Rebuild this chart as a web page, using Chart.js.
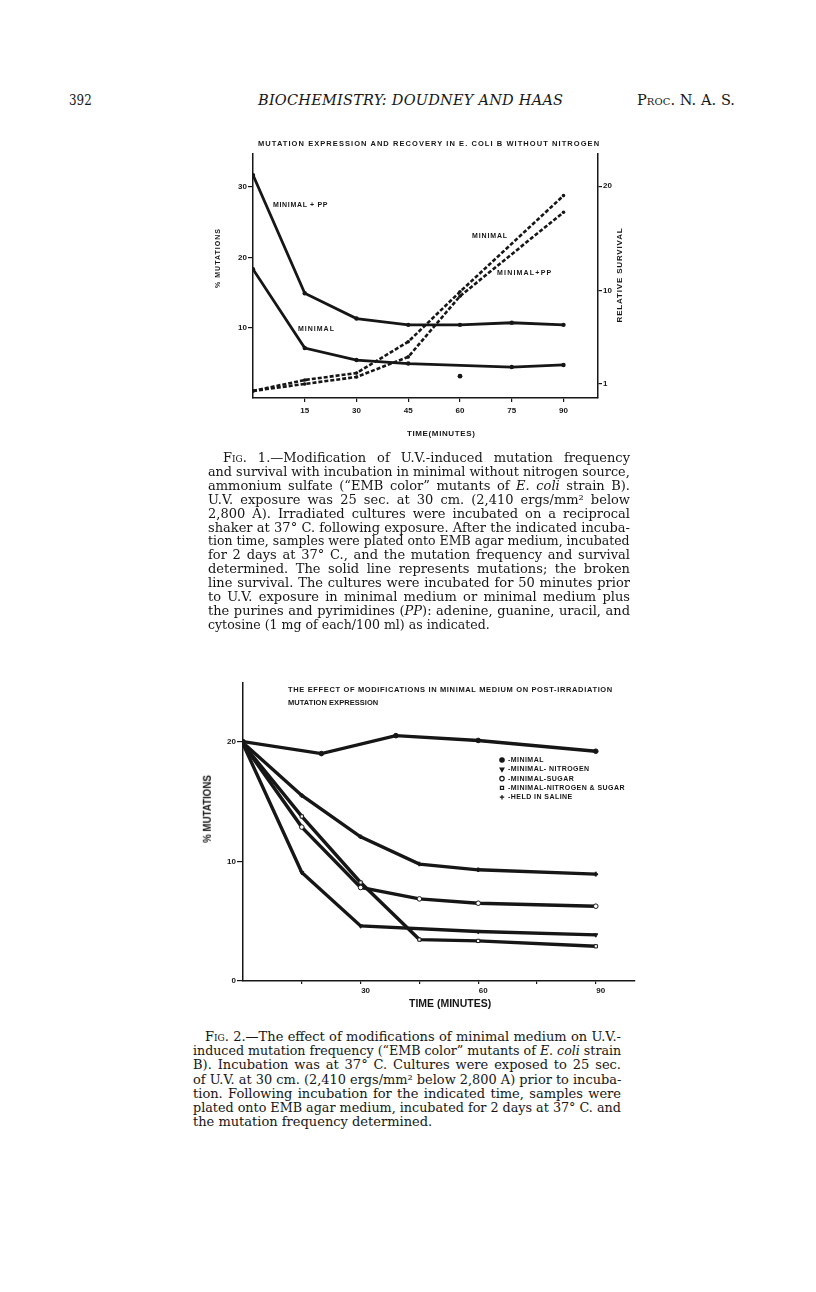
<!DOCTYPE html>
<html>
<head>
<meta charset="utf-8">
<title>Doudney and Haas, p. 392</title>
<script src="https://cdn.jsdelivr.net/npm/chart.js@4.4.1/dist/chart.umd.min.js"></script>
<style>
  body { margin: 0; background: #fff; }
  #page { position: relative; width: 816px; height: 1292px; overflow: hidden; background: #fff; color: #161616;
          font-family: "DejaVu Serif", "Liberation Serif", serif; }
  #page canvas { position: absolute; }
  .t { position: absolute; white-space: nowrap; }
  .hd { font-size: 14.5px; line-height: 15px; }
  .cap { font-size: 13px; line-height: 14px; }
  .lbl { font-family: "Liberation Sans", "DejaVu Sans", sans-serif; font-weight: bold; font-size: 8px; line-height: 8px; }
  .sc { font-variant: small-caps; }
</style>
</head>
<body>
<div id="page">
  <canvas id="fig1" width="500" height="330" style="left:180px;top:120px"></canvas>
  <canvas id="fig2" width="500" height="345" style="left:180px;top:670px"></canvas>

  <!-- running head -->
  <div class="t hd" data-x="69" data-cy="100" data-w="23">392</div>
  <div class="t hd" data-x="258" data-cy="100" data-w="305" data-ls="1" style="font-style:italic">BIOCHEMISTRY: DOUDNEY AND HAAS</div>
  <div class="t hd" data-x="637" data-cy="100" data-w="98" data-ls="1">P<span class="sc">roc</span>. N. A. S.</div>

  <!-- fig 1 lettering -->
  <div class="t lbl" data-x="258" data-cy="144" data-w="342" data-ls="1" style="font-size:7.5px">MUTATION EXPRESSION AND RECOVERY IN E. COLI B WITHOUT NITROGEN</div>
  <div class="t lbl" data-x="273" data-cy="205" data-w="55" data-ls="1" style="font-size:7px">MINIMAL + PP</div>
  <div class="t lbl" data-x="298" data-cy="329" data-w="37" data-ls="1" style="font-size:7px">MINIMAL</div>
  <div class="t lbl" data-x="472" data-cy="236" data-w="36" data-ls="1" style="font-size:7px">MINIMAL</div>
  <div class="t lbl" data-x="497" data-cy="273" data-w="55" data-ls="1" style="font-size:7px">MINIMAL+PP</div>
  <div class="t lbl" data-cx="218" data-cy="258" data-w="60" data-rot="1" data-ls="1" style="font-size:7px">% MUTATIONS</div>
  <div class="t lbl" data-cx="620" data-cy="275" data-w="95" data-rot="1" data-ls="1" style="font-size:8px">RELATIVE SURVIVAL</div>
  <div class="t lbl" data-cx="441" data-cy="434" data-w="68" data-ls="1" style="font-size:8px">TIME(MINUTES)</div>

  <!-- fig 1 legend text -->
  <div class="t cap" data-x="223" data-cy="458" data-w="407" data-just="1">F<span class="sc">ig</span>. 1.—Modification of U.V.-induced mutation frequency</div>
  <div class="t cap" data-x="208" data-cy="471.9" data-w="422" data-just="1">and survival with incubation in minimal without nitrogen source,</div>
  <div class="t cap" data-x="208" data-cy="485.8" data-w="422" data-just="1">ammonium sulfate (“EMB color” mutants of <i>E. coli</i> strain B).</div>
  <div class="t cap" data-x="208" data-cy="499.7" data-w="422" data-just="1">U.V. exposure was 25 sec. at 30 cm. (2,410 ergs/mm² below</div>
  <div class="t cap" data-x="208" data-cy="513.6" data-w="422" data-just="1">2,800 A). Irradiated cultures were incubated on a reciprocal</div>
  <div class="t cap" data-x="208" data-cy="527.5" data-w="422" data-just="1">shaker at 37° C. following exposure. After the indicated incuba-</div>
  <div class="t cap" data-x="208" data-cy="541.4" data-w="422" data-just="1">tion time, samples were plated onto EMB agar medium, incubated</div>
  <div class="t cap" data-x="208" data-cy="555.3" data-w="422" data-just="1">for 2 days at 37° C., and the mutation frequency and survival</div>
  <div class="t cap" data-x="208" data-cy="569.2" data-w="422" data-just="1">determined. The solid line represents mutations; the broken</div>
  <div class="t cap" data-x="208" data-cy="583.1" data-w="422" data-just="1">line survival. The cultures were incubated for 50 minutes prior</div>
  <div class="t cap" data-x="208" data-cy="597" data-w="422" data-just="1">to U.V. exposure in minimal medium or minimal medium plus</div>
  <div class="t cap" data-x="208" data-cy="610.9" data-w="422" data-just="1">the purines and pyrimidines (<i>PP</i>): adenine, guanine, uracil, and</div>
  <div class="t cap" data-x="208" data-cy="624.8" data-w="282">cytosine (1 mg of each/100 ml) as indicated.</div>

  <!-- fig 2 lettering -->
  <div class="t lbl" data-x="288" data-cy="690" data-w="325" data-ls="1" style="font-size:7.5px">THE EFFECT OF MODIFICATIONS IN MINIMAL MEDIUM ON POST-IRRADIATION</div>
  <div class="t lbl" data-x="288" data-cy="703" data-w="90" data-ls="1" style="font-size:7.5px">MUTATION EXPRESSION</div>
  <div class="t lbl" data-cx="208" data-cy="809" data-w="68" data-rot="1" data-ls="1" style="font-size:10px">% MUTATIONS</div>
  <div class="t lbl" data-cx="450" data-cy="1003" data-w="82" data-ls="1" style="font-size:11px">TIME (MINUTES)</div>

  <!-- fig 2 legend text -->
  <div class="t cap" data-x="205" data-cy="1037" data-w="416" data-just="1">F<span class="sc">ig</span>. 2.—The effect of modifications of minimal medium on U.V.-</div>
  <div class="t cap" data-x="193" data-cy="1051.2" data-w="428" data-just="1">induced mutation frequency (“EMB color” mutants of <i>E. coli</i> strain</div>
  <div class="t cap" data-x="193" data-cy="1065.4" data-w="428" data-just="1">B). Incubation was at 37° C. Cultures were exposed to 25 sec.</div>
  <div class="t cap" data-x="193" data-cy="1079.6" data-w="428" data-just="1">of U.V. at 30 cm. (2,410 ergs/mm² below 2,800 A) prior to incuba-</div>
  <div class="t cap" data-x="193" data-cy="1093.8" data-w="428" data-just="1">tion. Following incubation for the indicated time, samples were</div>
  <div class="t cap" data-x="193" data-cy="1108" data-w="428" data-just="1">plated onto EMB agar medium, incubated for 2 days at 37° C. and</div>
  <div class="t cap" data-x="193" data-cy="1122.2" data-w="240">the mutation frequency determined.</div>
</div>

<script>
// ---- Fig. 1 data (time in minutes) ----
const X1_TICKS = [15, 30, 45, 60, 75, 90];
const Y1_TICKS = [10, 20, 30];        // % mutations
const Y1R_TICKS = [1, 10, 20];        // relative survival

const MUT_PP_T = [0, 15, 30, 45, 60, 75, 90];
const MUT_PP = [31.7, 14.9, 11.3, 10.4, 10.4, 10.7, 10.4];
const MUT_MIN_T = [0, 15, 30, 45, 75, 90];
const MUT_MIN = [18.3, 7.1, 5.4, 4.9, 4.4, 4.7];
const LONE_T = [60];
const LONE = [3.1];

const SURV_T = [0, 15, 30, 45, 60, 90];
const SURV_MIN = [0.33, 1.38, 2.05, 5.06, 9.86, 19.1];
const SURV_PP = [0.33, 1.0, 1.67, 3.6, 9.44, 17.5];

// ---- Fig. 2 data ----
const X2_TICKS = [15, 30, 45, 60, 75, 90];
const X2_LABELS = [30, 60, 90];
const Y2_TICKS = [0, 10, 20];

const SERIES2 = ['MINIMAL', 'MINIMAL- NITROGEN', 'MINIMAL-SUGAR', 'MINIMAL-NITROGEN & SUGAR', 'HELD IN SALINE'];
const MINIMAL_T = [0, 20, 39, 60, 90];
const MINIMAL = [20, 19.0, 20.5, 20.1, 19.2];
const NO_N_T = [0, 15, 30, 60, 90];
const NO_N = [19.8, 9.06, 4.6, 4.13, 3.85];
const T2 = [0, 15, 30, 45, 60, 90];
const NO_SUGAR = [19.8, 12.86, 7.81, 6.86, 6.5, 6.25];
const NO_N_SUGAR = [19.8, 13.75, 8.23, 3.46, 3.35, 2.9];
const SALINE = [19.9, 15.5, 12.05, 9.77, 9.29, 8.93];

const INK = '#161616';
const pts = (xs, ys) => xs.map((x, i) => ({ x: x, y: ys[i] }));
const fixTicks = list => (s => { s.ticks = list.map(v => ({ value: v })); });
const tickFont = { family: '"Liberation Sans", "DejaVu Sans", sans-serif', weight: 'bold', size: 8 };

function axis(extra) {
    const base = {
        type: 'linear',
        grid: { drawOnChartArea: false, color: INK, lineWidth: 1.2, tickLength: 5 },
        border: { color: INK, width: 1.5 },
        ticks: { color: INK, font: tickFont, autoSkip: false, maxRotation: 0, padding: 1 }
    };
    return Object.assign(base, extra);
}

function solid(label, data, axisId) {
    return { label: label, data: data, yAxisID: axisId, borderColor: INK, borderWidth: 2.8,
             pointRadius: 2.2, pointBackgroundColor: INK, pointBorderWidth: 0, tension: 0 };
}

new Chart(document.getElementById('fig1'), {
    type: 'line',
    data: {
        datasets: [
            solid('Minimal + PP (% mutations)', pts(MUT_PP_T, MUT_PP), 'y'),
            solid('Minimal (% mutations)', pts(MUT_MIN_T, MUT_MIN), 'y'),
            Object.assign(solid('Minimal, 60 min', pts(LONE_T, LONE), 'y'), { showLine: false, pointRadius: 2.4 }),
            Object.assign(solid('Minimal (survival)', pts(SURV_T, SURV_MIN), 'y2'), { borderDash: [4, 2], borderWidth: 2.6, pointRadius: 1.8 }),
            Object.assign(solid('Minimal + PP (survival)', pts(SURV_T, SURV_PP), 'y2'), { borderDash: [4, 2], borderWidth: 2.6, pointRadius: 1.8 })
        ]
    },
    options: {
        responsive: false, animation: false, devicePixelRatio: 1,
        layout: { padding: { top: 34, left: 0, right: 0, bottom: 0 } },
        plugins: { legend: { display: false }, tooltip: { enabled: false } },
        scales: {
            x: axis({ min: 0, max: 100, afterFit: s => { s.height = 52; }, afterBuildTicks: fixTicks(X1_TICKS),
                      grid: { drawOnChartArea: false, color: INK, lineWidth: 1.2, tickLength: 4 },
                      ticks: { color: INK, font: tickFont, autoSkip: false, maxRotation: 0, padding: 4 } }),
            y: axis({ position: 'left', min: 0, max: 34.7, afterFit: s => { s.width = 73; }, afterBuildTicks: fixTicks(Y1_TICKS) }),
            y2: axis({ position: 'right', min: -0.35, max: 23.1, afterFit: s => { s.width = 82; }, afterBuildTicks: fixTicks(Y1R_TICKS),
                       grid: { drawOnChartArea: false, color: INK, lineWidth: 1.2, tickLength: 4 } })
        }
    }
});

// legend drawn in the plot, as in the original figure
const inkLegend = {
    id: 'inkLegend',
    afterDraw(chart, args, opts) {
        const ctx = chart.ctx;
        ctx.save();
        ctx.font = 'bold 7px "Liberation Sans", "DejaVu Sans", sans-serif';
        if ('letterSpacing' in ctx) ctx.letterSpacing = '0.45px';
        ctx.textBaseline = 'middle';
        chart.data.datasets.forEach((ds, i) => {
            const y = opts.y + i * opts.gap;
            ctx.fillStyle = ds.pointBackgroundColor;
            ctx.strokeStyle = INK;
            ctx.lineWidth = 1.2;
            if (Chart.helpers && Chart.helpers.drawPoint) {
                Chart.helpers.drawPoint(ctx, { pointStyle: ds.pointStyle, radius: 2.2, rotation: ds.pointRotation || 0, borderWidth: 1.2 }, opts.x, y);
            } else {
                ctx.beginPath(); ctx.arc(opts.x, y, 2.2, 0, Math.PI * 2); ctx.fill(); ctx.stroke();
            }
            ctx.fillStyle = INK;
            ctx.fillText('-' + ds.label, opts.x + 6, y);
        });
        ctx.restore();
    }
};

function series2(label, data, style, fill, extra) {
    return Object.assign({ label: label, data: data, borderColor: INK, borderWidth: 3.4, tension: 0,
                           pointStyle: style, pointRadius: 2.3, pointBackgroundColor: fill,
                           pointBorderColor: INK, pointBorderWidth: 1 }, extra || {});
}

new Chart(document.getElementById('fig2'), {
    type: 'line',
    data: {
        datasets: [
            series2(SERIES2[0], pts(MINIMAL_T, MINIMAL), 'circle', INK),
            series2(SERIES2[1], pts(NO_N_T, NO_N), 'triangle', INK, { pointRotation: 180 }),
            series2(SERIES2[2], pts(T2, NO_SUGAR), 'circle', '#fff'),
            series2(SERIES2[3], pts(T2, NO_N_SUGAR), 'rect', '#fff'),
            series2(SERIES2[4], pts(T2, SALINE), 'cross', INK, { pointBorderWidth: 2 })
        ]
    },
    options: {
        responsive: false, animation: false, devicePixelRatio: 1,
        layout: { padding: { top: 13, left: 0, right: 45, bottom: 0 } },
        plugins: { legend: { display: false }, tooltip: { enabled: false }, inkLegend: { x: 322, y: 90, gap: 9.3 } },
        scales: {
            x: axis({ min: 0, max: 100, afterFit: s => { s.height = 34; }, afterBuildTicks: fixTicks(X2_TICKS),
                      grid: { drawOnChartArea: false, color: INK, lineWidth: 1.2, tickLength: 3 },
                      ticks: { color: INK, font: tickFont, autoSkip: false, maxRotation: 0, padding: 2, labelOffset: 5,
                               callback: v => X2_LABELS.includes(v) ? String(v) : '' } }),
            y: axis({ position: 'left', min: 0, max: 24.9, afterFit: s => { s.width = 63; }, afterBuildTicks: fixTicks(Y2_TICKS),
                      grid: { drawOnChartArea: false, color: INK, lineWidth: 1.2, tickLength: 6 } })
        }
    },
    plugins: [inkLegend]
});

// place the page lettering and fit each line to its measured width
function placeText() {
    document.querySelectorAll('#page .t').forEach(el => {
        const w = parseFloat(el.dataset.w);
        const nat = el.offsetWidth;
        const h = el.offsetHeight;
        let sx = 1;
        if (nat > w) {
            sx = w / nat;
        } else if (el.dataset.just) {
            el.style.whiteSpace = 'normal';
            el.style.width = w + 'px';
            el.style.textAlign = 'justify';
            el.style.textAlignLast = 'justify';
        } else if (el.dataset.ls) {
            el.style.letterSpacing = ((w - nat) / el.textContent.length) + 'px';
        }
        const boxW = el.offsetWidth;
        const cy = parseFloat(el.dataset.cy);
        const centred = el.dataset.cx !== undefined;
        const left = centred ? parseFloat(el.dataset.cx) - boxW / 2 : parseFloat(el.dataset.x);
        el.style.left = left + 'px';
        el.style.top = (cy - h / 2) + 'px';
        let tf = '';
        if (el.dataset.rot) tf += 'rotate(-90deg) ';
        if (sx !== 1) tf += 'scaleX(' + sx + ')';
        el.style.transform = tf;
        el.style.transformOrigin = (centred || el.dataset.rot) ? 'center center' : 'left center';
    });
}
placeText();
</script>
</body>
</html>
